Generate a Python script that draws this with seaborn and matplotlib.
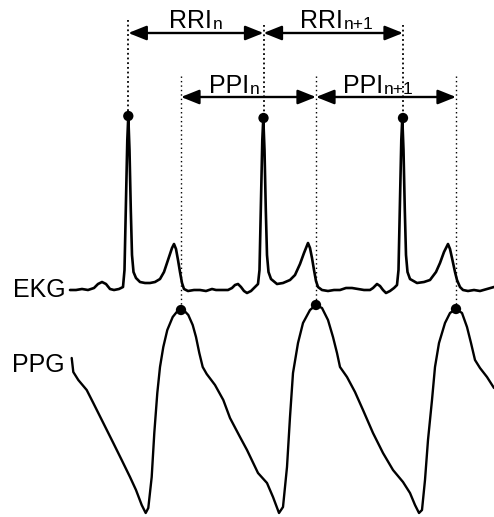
import matplotlib
matplotlib.use("Agg")
import matplotlib.pyplot as plt
import seaborn as sns
import pandas as pd

# ---- data (pixel-like units; y grows downward) ----
ekg_x = [70, 76, 82, 88, 94, 98, 102, 106, 110, 114, 119, 123, 124.5, 126, 127.3, 128.3, 129.5, 130.8, 132, 133.5,
         136, 140, 145, 150, 155, 160, 164, 167, 170, 172, 174, 176, 178, 180, 182, 184, 188, 194, 200, 206,
         212, 216, 222, 228, 232, 235, 238, 241, 244, 247, 251, 255, 258, 259.5, 261, 262.3, 263.3, 264.5, 265.8, 267,
         268.5, 271, 277, 283, 290, 295, 300, 304, 306, 308, 310, 312, 314, 316, 318, 322, 328, 334, 340, 346,
         352, 358, 364, 370, 373, 375, 377, 380, 383, 386, 390, 394, 397, 398.5, 400, 401.3, 402.3, 403.5, 404.8, 406,
         407.5, 410, 417, 424, 430, 436, 440, 444, 446, 448, 450, 452, 455, 457, 460, 463, 468, 474, 480, 487, 494]
ekg_y = [290, 290, 289, 290, 288, 284, 282, 284, 289, 290, 289, 287, 270, 200, 140, 116, 150, 210, 255, 272,
         278, 282, 283, 283, 282, 279, 272, 263, 254, 248, 244, 249, 260, 272, 283, 289, 291, 290, 290, 291,
         289, 290, 290, 290, 288, 285, 284, 287, 291, 293, 291, 287, 284, 270, 200, 140, 118, 150, 210, 255,
         272, 279, 284, 283, 280, 275, 264, 253, 248, 243, 248, 258, 270, 281, 287, 290, 291, 290, 290, 288,
         288, 289, 290, 290, 288, 286, 284, 286, 290, 293, 291, 288, 285, 270, 200, 140, 118, 150, 210, 255,
         272, 279, 283, 282, 280, 272, 263, 252, 248, 244, 249, 258, 272, 280, 287, 290, 291, 290, 291, 289, 287]

ppg_x = [71.7, 73.3, 78.3, 86.7, 93.3, 103.3, 113.3, 121.7, 130, 136, 141.7, 145.7, 148.3, 151.7, 154.3, 157.3,
         160, 163.3, 167.3, 172.7, 178.3, 182.7, 188.3, 192.7, 196, 199.3, 202.7, 206.7, 215, 223.3, 230, 240,
         247, 258, 267, 273, 279, 283, 287, 290, 293, 298, 303, 310, 316, 322, 328, 333, 337, 340, 347, 355,
         363, 373, 383, 393, 403, 410, 415, 419, 422, 425, 428, 432, 435, 439, 445, 450, 456, 462, 467, 471,
         475, 480, 487, 494]
ppg_y = [358, 372, 380, 390, 403, 423, 443, 460, 477, 490, 505, 513, 508, 477, 433, 393,
         367, 347, 330, 317, 310, 309, 315, 325, 337, 353, 367, 374, 385, 400, 418, 437,
         450, 473, 483, 497, 513, 507, 467, 417, 373, 343, 323, 310, 305, 308, 320, 337, 353, 367, 377, 392,
         410, 433, 453, 470, 482, 493, 505, 513, 510, 480, 440, 400, 367, 343, 323, 313, 309, 313, 327, 343,
         360, 368, 377, 388]

# R peaks (EKG) and systolic peaks (PPG)
r_peak_x = [128.3, 263.5, 403.0]
r_peak_y = [116, 118, 118]
r_line_top = [20, 25, 25]
p_peak_x = [181.0, 316.0, 456.0]
p_peak_y = [310, 305, 309]
p_line_top = 76

interval_main = ["RRI", "RRI", "PPI", "PPI"]
interval_sub = ["n", "n+1", "n", "n+1"]
main_left = [169, 300, 209, 343]
rr_arrow_y = 33
pp_arrow_y = 97
rr_text_y = 28.5
pp_text_y = 93

sns.set_theme(style="white")
plt.rcParams["font.family"] = ["Liberation Sans", "DejaVu Sans"]

fig = plt.figure(figsize=(4.94, 5.17), dpi=100)
ax = fig.add_axes([0, 0, 1, 1])
ax.set_xlim(0, 494)
ax.set_ylim(517, 0)
ax.axis("off")

ekg = pd.DataFrame({"x": ekg_x, "y": ekg_y})
ppg = pd.DataFrame({"x": ppg_x, "y": ppg_y})
sns.lineplot(data=ekg, x="x", y="y", ax=ax, color="black", lw=1.9, estimator=None, sort=False)
sns.lineplot(data=ppg, x="x", y="y", ax=ax, color="black", lw=1.7, estimator=None, sort=False)

# dotted reference lines
for x, top, yb in zip(r_peak_x, r_line_top, r_peak_y):
    ax.plot([x, x], [top, yb], color="black", lw=1.3, ls=(0, (1.0, 1.6)))
for x, yb in zip(p_peak_x, p_peak_y):
    ax.plot([x, x], [p_line_top, yb], color="black", lw=1.0, ls=(0, (1.0, 2.2)))

sns.scatterplot(x=r_peak_x, y=r_peak_y, ax=ax, color="black", s=55, edgecolor="none", zorder=5)
sns.scatterplot(x=p_peak_x, y=p_peak_y, ax=ax, color="black", s=55, edgecolor="none", zorder=5)

arrow_kw = dict(arrowstyle="<|-|>,head_length=0.55,head_width=0.22", color="black", lw=1.7,
                shrinkA=0, shrinkB=0, mutation_scale=20)
for a, b in zip(r_peak_x[:-1], r_peak_x[1:]):
    ax.annotate("", xy=(b, rr_arrow_y), xytext=(a, rr_arrow_y), arrowprops=arrow_kw)
for a, b in zip(p_peak_x[:-1], p_peak_x[1:]):
    ax.annotate("", xy=(b, pp_arrow_y), xytext=(a, pp_arrow_y), arrowprops=arrow_kw)

text_y = [rr_text_y, rr_text_y, pp_text_y, pp_text_y]
for m, s, ml, ty in zip(interval_main, interval_sub, main_left, text_y):
    t = ax.text(ml, ty, m, fontsize=18, ha="left", va="baseline", color="black")
    ax.annotate(s, xy=(1, 0), xycoords=t, xytext=(0.8, 1.0), textcoords="offset points",
                fontsize=12.5, ha="left", va="bottom", color="black")

ax.text(13, 297, "EKG", fontsize=18, ha="left", va="baseline", color="black")
ax.text(12, 372, "PPG", fontsize=18, ha="left", va="baseline", color="black")

fig.savefig("out.png", dpi=100)
